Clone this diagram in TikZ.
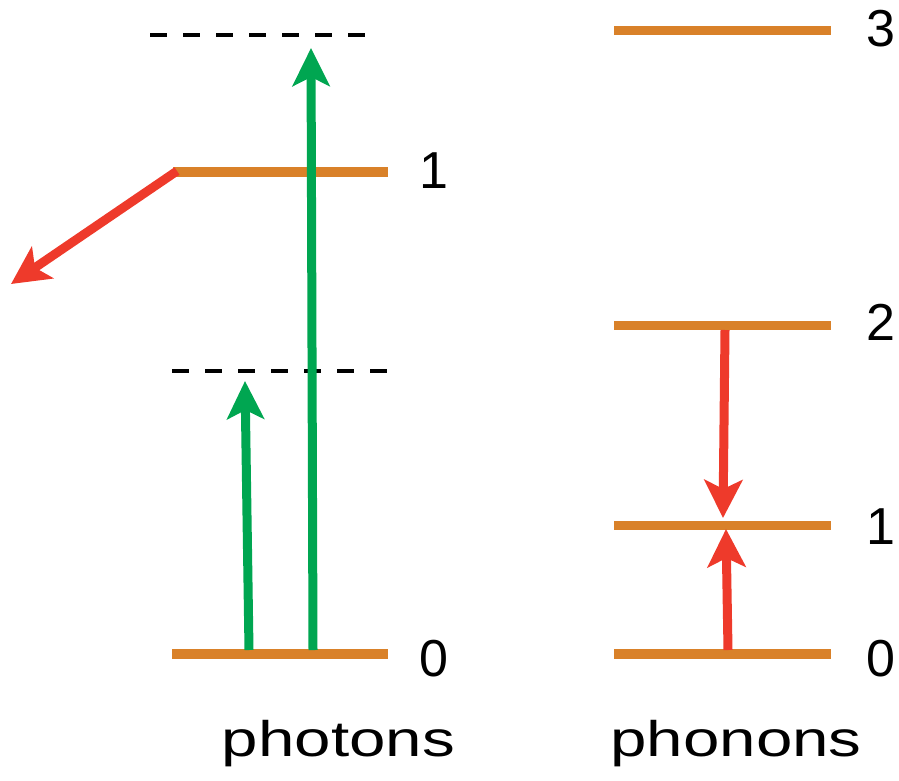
\documentclass[tikz,border=0pt]{standalone}
\usepackage{fontspec}
\setmainfont{Liberation Sans}
\usetikzlibrary{arrows.meta}
\definecolor{lvl}{HTML}{D98129}
\definecolor{grn}{HTML}{00A651}
\definecolor{rd}{HTML}{EE3A2B}
\begin{document}
\begin{tikzpicture}[x=1pt,y=-1pt,
  level/.style={draw=lvl,line width=9.5pt},
  virt/.style={draw=black,line width=4pt,dash pattern=on 17pt off 16pt},
  garrow/.style={draw=grn,line width=9pt,-{Stealth[length=38pt,width=37pt,inset=9pt]}},
  rarrow/.style={draw=rd,line width=9pt,-{Stealth[length=38pt,width=38pt,inset=9pt]}},
  num/.style={font=\fontsize{52}{52}\selectfont,inner sep=0pt,anchor=base west},
  lab/.style={font=\fontsize{50}{50}\selectfont,inner sep=0pt,anchor=base}]
\useasboundingbox (0,0) rectangle (899,781);
% photon levels
\coordinate (pL1a) at (173,172); \coordinate (pL1b) at (388,172);
\coordinate (pL0a) at (172,654); \coordinate (pL0b) at (388,654);
\draw[level] (pL1a) -- (pL1b);
\draw[level] (pL0a) -- (pL0b);
\coordinate (v1a) at (150,35); \coordinate (v1b) at (372,35);
\coordinate (v0a) at (172,371); \coordinate (v0b) at (390,371);
\draw[virt] (v1a) -- (v1b);
\draw[virt] (v0a) -- (v0b);
% green arrows
\coordinate (g1s) at (249,650); \coordinate (g1e) at (245,381);
\coordinate (g2s) at (313,650); \coordinate (g2e) at (311,48);
\draw[garrow] (g1s) -- (g1e);
\draw[garrow] (g2s) -- (g2e);
% red emission
\coordinate (r0s) at (177,171); \coordinate (r0e) at (11,284);
\draw[rarrow] (r0s) -- (r0e);
% phonon levels
\coordinate (q3a) at (614,30.5); \coordinate (q3b) at (831,30.5);
\coordinate (q2a) at (614,325.5); \coordinate (q2b) at (831,325.5);
\coordinate (q1a) at (614,525.5); \coordinate (q1b) at (831,525.5);
\coordinate (q0a) at (614,654); \coordinate (q0b) at (831,654);
\draw[level] (q3a) -- (q3b);
\draw[level] (q2a) -- (q2b);
\draw[level] (q1a) -- (q1b);
\draw[level] (q0a) -- (q0b);
\coordinate (r1s) at (725,330); \coordinate (r1e) at (723,518);
\coordinate (r2s) at (728,650); \coordinate (r2e) at (726,529);
\draw[rarrow] (r1s) -- (r1e);
\draw[rarrow] (r2s) -- (r2e);
% labels
\node[num] (n1l) at (419,188) {1};
\node[num] (n0l) at (419,676) {0};
\node[num] (n3) at (866,47) {3};
\node[num] (n2) at (866,340) {2};
\node[num] (n1r) at (866,544) {1};
\node[num] (n0r) at (866,676) {0};
\node[lab] (ph) at (338.5,756) {\scalebox{1.31}[1]{photons}};
\node[lab] (pn) at (736,756) {\scalebox{1.31}[1]{phonons}};
\end{tikzpicture}
\end{document}
